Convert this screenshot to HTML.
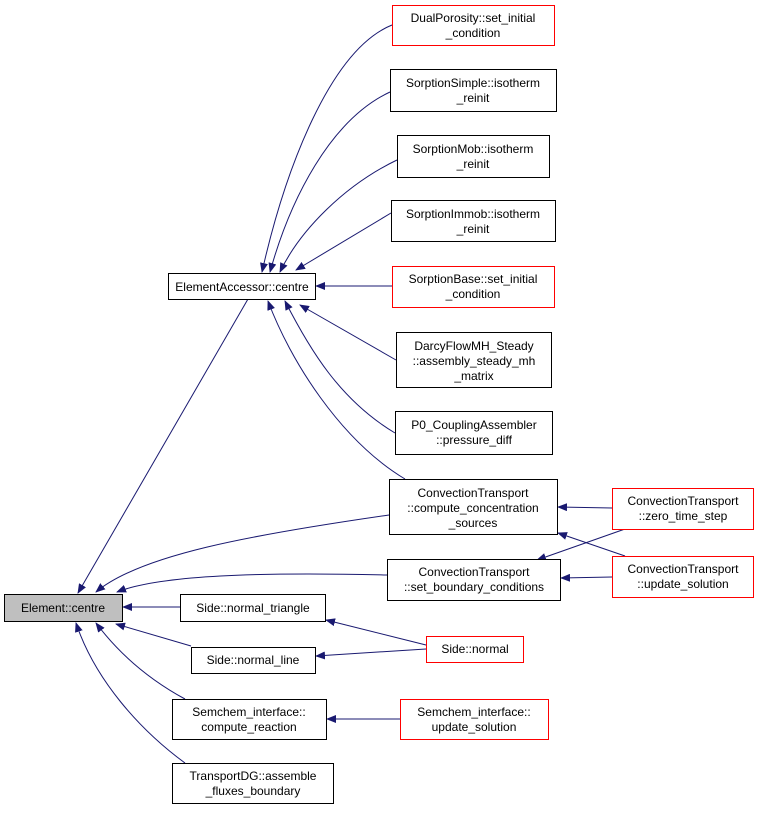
<!DOCTYPE html>
<html><head><meta charset="utf-8"><style>
html,body{margin:0;padding:0;background:#fff;}
svg text{font-family:"Liberation Sans",sans-serif;font-size:12px;fill:#000;}
</style></head><body>
<svg width="760" height="808" viewBox="0 0 760 808" xmlns="http://www.w3.org/2000/svg">
<defs><marker id="a" markerWidth="10" markerHeight="8" refX="9" refY="4" orient="auto" markerUnits="userSpaceOnUse"><path d="M0,0 L10,4 L0,8 Z" fill="#191970"/></marker></defs>
<g fill="none" stroke="#191970" stroke-width="1" marker-end="url(#a)">
<path d="M392,25 C330,50 285,170 262,272"/>
<path d="M390,92 C330,120 290,200 270,272"/>
<path d="M397,160 C345,185 300,230 280,272"/>
<path d="M391,213 L296,270"/>
<path d="M392,286 L316,286"/>
<path d="M396,360 L300,305"/>
<path d="M395,433 C340,400 310,350 285,301"/>
<path d="M405,479 C340,440 290,360 268,301"/>
<path d="M248,299 L78,593"/>
<path d="M389,515 C250,535 140,555 96,592"/>
<path d="M387,575 C260,572 160,575 117,592"/>
<path d="M180,607 L123,607"/>
<path d="M191,646 L116,624"/>
<path d="M185,699 C150,680 120,655 96,623"/>
<path d="M185,763 C140,730 95,680 76,623"/>
<path d="M612,508 L558,507"/>
<path d="M625,556 L558,533"/>
<path d="M625,529 L537,560"/>
<path d="M612,577 L561,578"/>
<path d="M426,645 L326,620"/>
<path d="M426,649 L316,656"/>
<path d="M400,719 L327,719"/>
</g>
<g stroke-width="1">
<rect x="4.5" y="594.5" width="118" height="27" fill="#bfbfbf" stroke="#000"/>
<rect x="168.5" y="273.5" width="147" height="26" fill="#fff" stroke="#000"/>
<rect x="392.5" y="5.5" width="162" height="40" fill="#fff" stroke="#f00"/>
<rect x="390.5" y="69.5" width="166" height="42" fill="#fff" stroke="#000"/>
<rect x="397.5" y="135.5" width="152" height="42" fill="#fff" stroke="#000"/>
<rect x="391.5" y="200.5" width="164" height="41" fill="#fff" stroke="#000"/>
<rect x="392.5" y="266.5" width="162" height="41" fill="#fff" stroke="#f00"/>
<rect x="396.5" y="332.5" width="155" height="55" fill="#fff" stroke="#000"/>
<rect x="395.5" y="411.5" width="157" height="43" fill="#fff" stroke="#000"/>
<rect x="389.5" y="479.5" width="168" height="55" fill="#fff" stroke="#000"/>
<rect x="387.5" y="559.5" width="173" height="41" fill="#fff" stroke="#000"/>
<rect x="612.5" y="488.5" width="141" height="41" fill="#fff" stroke="#f00"/>
<rect x="612.5" y="556.5" width="141" height="41" fill="#fff" stroke="#f00"/>
<rect x="180.5" y="594.5" width="145" height="27" fill="#fff" stroke="#000"/>
<rect x="191.5" y="647.5" width="124" height="26" fill="#fff" stroke="#000"/>
<rect x="426.5" y="636.5" width="97" height="26" fill="#fff" stroke="#f00"/>
<rect x="172.5" y="699.5" width="154" height="40" fill="#fff" stroke="#000"/>
<rect x="400.5" y="699.5" width="148" height="40" fill="#fff" stroke="#f00"/>
<rect x="172.5" y="763.5" width="161" height="40" fill="#fff" stroke="#000"/>
</g>
<g text-anchor="middle">
<text x="63" y="612">Element::centre</text>
<text x="242" y="291">ElementAccessor::centre</text>
<text x="473" y="22">DualPorosity::set_initial</text><text x="473" y="37">_condition</text>
<text x="473" y="87">SorptionSimple::isotherm</text><text x="473" y="102">_reinit</text>
<text x="473" y="153">SorptionMob::isotherm</text><text x="473" y="168">_reinit</text>
<text x="473" y="218">SorptionImmob::isotherm</text><text x="473" y="233">_reinit</text>
<text x="473" y="283">SorptionBase::set_initial</text><text x="473" y="298">_condition</text>
<text x="474" y="350">DarcyFlowMH_Steady</text><text x="474" y="365">::assembly_steady_mh</text><text x="474" y="380">_matrix</text>
<text x="474" y="429">P0_CouplingAssembler</text><text x="474" y="444">::pressure_diff</text>
<text x="473" y="497">ConvectionTransport</text><text x="473" y="512">::compute_concentration</text><text x="473" y="527">_sources</text>
<text x="474" y="576">ConvectionTransport</text><text x="474" y="591">::set_boundary_conditions</text>
<text x="683" y="505">ConvectionTransport</text><text x="683" y="520">::zero_time_step</text>
<text x="683" y="573">ConvectionTransport</text><text x="683" y="588">::update_solution</text>
<text x="253" y="612">Side::normal_triangle</text>
<text x="253" y="664">Side::normal_line</text>
<text x="475" y="653">Side::normal</text>
<text x="249" y="716">Semchem_interface::</text><text x="249" y="731">compute_reaction</text>
<text x="474" y="716">Semchem_interface::</text><text x="474" y="731">update_solution</text>
<text x="253" y="780">TransportDG::assemble</text><text x="253" y="795">_fluxes_boundary</text>
</g>
</svg>
</body></html>
